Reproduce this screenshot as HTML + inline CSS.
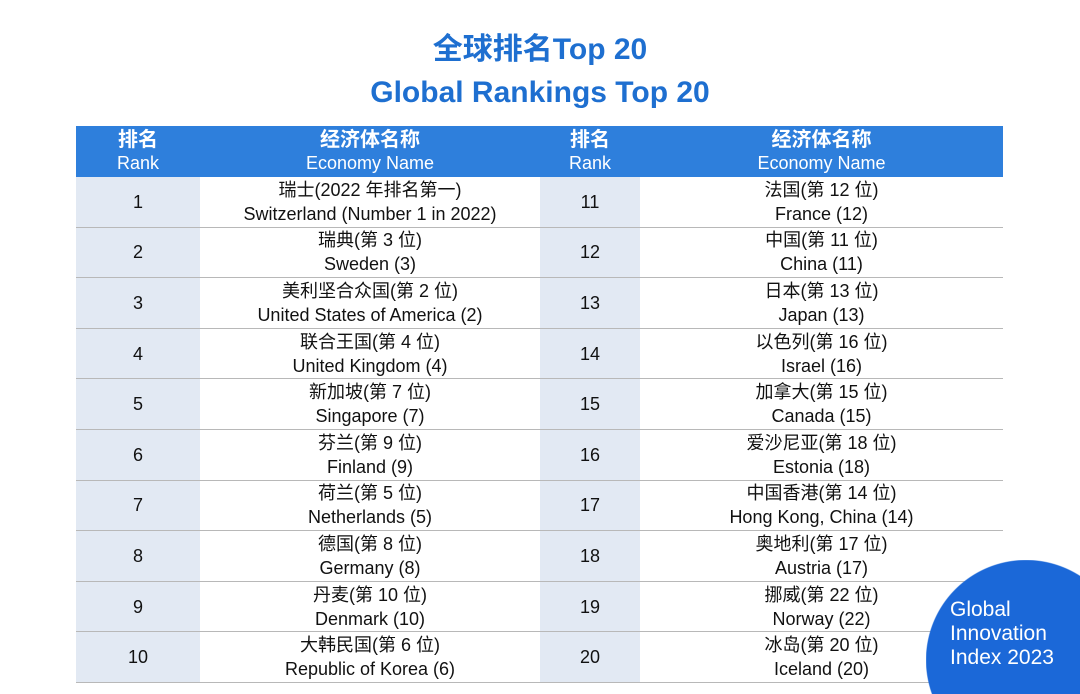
<!DOCTYPE html>
<html style="width:1080px;height:694px;overflow:hidden"><head><meta charset="utf-8"><style>
body{margin:0;width:1080px;height:694px;background:#fff;overflow:hidden;position:relative;font-family:"Liberation Sans","Noto Sans CJK SC",sans-serif;}
.t{position:absolute;left:0;width:1080px;text-align:center;color:#1e6fd0;font-weight:bold;}
table{position:absolute;left:76px;top:126px;width:927px;border-collapse:collapse;table-layout:fixed;}
td,th{text-align:center;padding:0;font-size:18px;line-height:24px;color:#111;}
th{background:#2e7fdc;color:#fff;font-weight:normal;height:51px;font-size:18px;line-height:23px}
th b{font-size:20px;font-weight:bold}
td{height:49.6px;border-bottom:1px solid #b8b8b8;}
td.r{background:#e2e9f3;}
.badge{position:absolute;left:926px;top:560px;width:154px;height:134px;background:radial-gradient(circle at 100px 100px,#1b68d8 99.5px,rgba(27,104,216,0) 100.5px);}
.bt{position:absolute;left:950px;top:598px;color:#fff;font-size:21px;line-height:24px;}
</style></head><body>
<div class="t" style="top:24px;font-size:30px">全球排名Top 20</div>
<div class="t" style="top:76px;font-size:30px">Global Rankings Top 20</div>
<table>
<colgroup><col style="width:124px"><col style="width:340px"><col style="width:100px"><col style="width:363px"></colgroup>
<tr><th><b>排名</b><br>Rank</th><th><b>经济体名称</b><br>Economy Name</th><th><b>排名</b><br>Rank</th><th><b>经济体名称</b><br>Economy Name</th></tr>
<tbody id="tb"></tbody>
</table>
<div class="badge"></div>
<div class="bt">Global<br>Innovation<br>Index 2023</div>
<script>
const rows=[
["瑞士(2022 年排名第一)","Switzerland (Number 1 in 2022)","法国(第 12 位)","France (12)"],
["瑞典(第 3 位)","Sweden (3)","中国(第 11 位)","China (11)"],
["美利坚合众国(第 2 位)","United States of America (2)","日本(第 13 位)","Japan (13)"],
["联合王国(第 4 位)","United Kingdom (4)","以色列(第 16 位)","Israel (16)"],
["新加坡(第 7 位)","Singapore (7)","加拿大(第 15 位)","Canada (15)"],
["芬兰(第 9 位)","Finland (9)","爱沙尼亚(第 18 位)","Estonia (18)"],
["荷兰(第 5 位)","Netherlands (5)","中国香港(第 14 位)","Hong Kong, China (14)"],
["德国(第 8 位)","Germany (8)","奥地利(第 17 位)","Austria (17)"],
["丹麦(第 10 位)","Denmark (10)","挪威(第 22 位)","Norway (22)"],
["大韩民国(第 6 位)","Republic of Korea (6)","冰岛(第 20 位)","Iceland (20)"]];
const tb=document.getElementById('tb');
rows.forEach((r,i)=>{
const tr=document.createElement('tr');


tr.innerHTML='<td class="r">'+(i+1)+'</td><td>'+r[0]+'<br>'+r[1]+'</td><td class="r">'+(i+11)+'</td><td>'+r[2]+'<br>'+r[3]+'</td>';
tb.appendChild(tr);
});
</script>
</body></html>
